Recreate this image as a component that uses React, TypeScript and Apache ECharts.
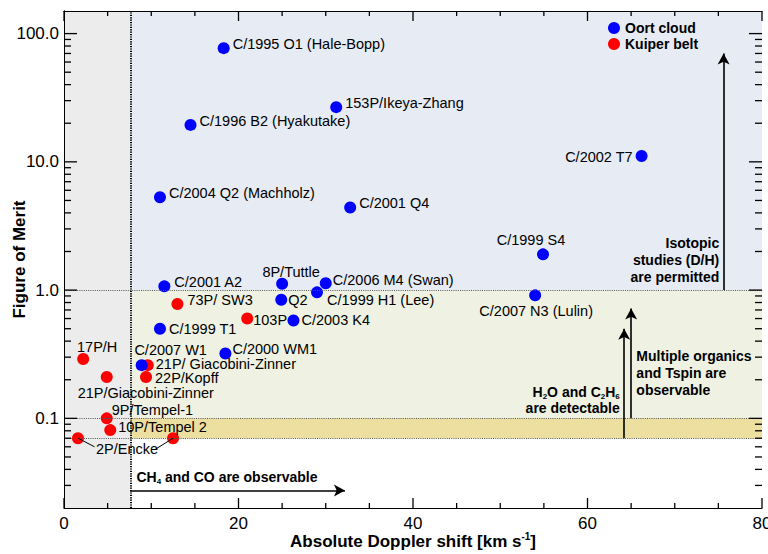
import { useEffect, useRef } from "react";
import * as echarts from "echarts";

// Axis ranges
const X_MIN = 0;
const X_MAX = 80;
const X_STEP = 20;
const X_MINOR_STEP = 5;
const Y_MIN = 0.02;
const Y_MAX = 150;

// Observability thresholds
const X_CUT = 7.6; // CH4 / CO become observable beyond this Doppler shift
const Y_ISOTOPIC = 1.0;
const Y_ORGANICS = 0.1;
const Y_DETECT = 0.07;

// Oort cloud comets: name, absolute Doppler shift [km/s], figure of merit
const OORT_NAMES = [
  "C/1995 O1 (Hale-Bopp)",
  "C/1996 B2 (Hyakutake)",
  "153P/Ikeya-Zhang",
  "C/2002 T7",
  "C/2004 Q2 (Machholz)",
  "C/2001 Q4",
  "C/1999 S4",
  "C/2007 N3 (Lulin)",
  "C/2001 A2",
  "8P/Tuttle",
  "C/2006 M4 (Swan)",
  "C/1999 H1 (Lee)",
  "Q2",
  "C/2003 K4",
  "C/1999 T1",
  "C/2000 WM1",
  "C/2007 W1",
];
const OORT_SHIFT = [18.3, 14.5, 31.2, 66.2, 11.0, 32.8, 54.9, 54.0, 11.5, 25.0, 30.0, 29.0, 24.9, 26.3, 11.0, 18.5, 8.9];
const OORT_MERIT = [77, 19.4, 26.7, 11.1, 5.3, 4.4, 1.9, 0.91, 1.07, 1.12, 1.13, 0.96, 0.84, 0.58, 0.5, 0.32, 0.26];

// Kuiper belt (Jupiter-family) comets
const KUIPER_NAMES = [
  "73P/ SW3",
  "103P",
  "21P/ Giacobini-Zinner",
  "22P/Kopff",
  "17P/H",
  "21P/Giacobini-Zinner",
  "9P/Tempel-1",
  "10P/Tempel 2",
  "2P/Encke",
  "2P/Encke",
];
const KUIPER_SHIFT = [13.0, 21.0, 9.6, 9.4, 2.2, 4.9, 4.9, 5.3, 1.6, 12.5];
const KUIPER_MERIT = [0.78, 0.6, 0.26, 0.21, 0.29, 0.21, 0.1, 0.081, 0.07, 0.07];

// Tick values of the logarithmic axis
const Y_MAJOR_TICKS = [0.1, 1, 10, 100];
const Y_MINOR_TICKS = [
  0.03, 0.04, 0.05, 0.06, 0.07, 0.08, 0.09,
  0.2, 0.3, 0.4, 0.5, 0.6, 0.7, 0.8, 0.9,
  2, 3, 4, 5, 6, 7, 8, 9,
  20, 30, 40, 50, 60, 70, 80, 90,
];

// Label placement per comet: side of the marker and a pixel nudge
type Side = "right" | "left" | "top" | "bottom" | "none";
const OORT_LABEL_SIDE: [Side, number, number][] = [
  ["right", 0, -4],
  ["right", 0, -4],
  ["right", 0, -4],
  ["left", 0, 1],
  ["right", 0, -4],
  ["right", 0, -5],
  ["top", -12, 2],
  ["bottom", 1, -1],
  ["right", 1, -4],
  ["top", 9, 5],
  ["right", -2, -3],
  ["right", 1, 8],
  ["right", -2, 0],
  ["right", -1, 0],
  ["right", 0, 0],
  ["right", -2, -5],
  ["top", 29, 1],
];
const KUIPER_LABEL_SIDE: [Side, number, number][] = [
  ["right", 1, -4],
  ["right", -3, 1],
  ["right", -1, -1],
  ["right", 0, 1],
  ["top", 14, 4],
  ["bottom", 39, -1],
  ["right", -4, -8],
  ["right", -1, -3],
  ["right", 9, 11],
  ["none", 0, 0],
];

// Leader lines joining both 2P/Encke points to their shared label (data space)
const ENCKE_LEADERS: [[number, number], [number, number]][] = [
  [[1.6, 0.07], [3.5, 0.06]],
  [[12.5, 0.07], [10.4, 0.057]],
];

// Annotation arrows (data space): start and end
const ARROW_ISOTOPIC: [[number, number], [number, number]] = [[75.6, Y_ISOTOPIC], [75.6, 70]];
const ARROW_ORGANICS: [[number, number], [number, number]] = [[65.0, Y_ORGANICS], [65.0, 0.72]];
const ARROW_DETECT: [[number, number], [number, number]] = [[64.2, Y_DETECT], [64.2, 0.5]];
const ARROW_CH4: [[number, number], [number, number]] = [[X_CUT, 0.0274], [32.2, 0.0274]];

// Annotation text anchors (data space)
const TEXT_ISOTOPIC: [number, number] = [75.1, 1.08];
const TEXT_ORGANICS: [number, number] = [65.6, 0.353];
const TEXT_DETECT: [number, number] = [63.7, 0.104];
const TEXT_CH4: [number, number] = [8.3, 0.0348];

const FONT = "'Liberation Sans', Arial, Helvetica, sans-serif";
const BLUE = "#0000ff";
const RED = "#ff0000";

function buildPoints(names: string[], xs: number[], ys: number[], sides: [Side, number, number][]) {
  return names.map((name, i) => {
    const [side, dx, dy] = sides[i];
    return {
      name,
      value: [xs[i], ys[i]],
      label:
        side === "none"
          ? { show: false }
          : { show: true, position: side, distance: 3, offset: [dx, dy] },
    };
  });
}

const isDecade = (v: number) => {
  const l = Math.log10(v);
  return Math.abs(l - Math.round(l)) < 1e-6;
};

export default function App() {
  const ref = useRef<HTMLDivElement>(null);

  useEffect(() => {
    document.body.style.margin = "0";
    if (!ref.current) return;
    const chart = echarts.init(ref.current, undefined, { renderer: "svg" });

    const pointLabel = {
      formatter: "{b}",
      fontSize: 14.5,
      color: "#000",
      fontFamily: FONT,
    };

    const arrowLine = (a: [[number, number], [number, number]]) => [
      { coord: a[0], symbol: "none" },
      { coord: a[1], symbol: "arrow", symbolSize: [9, 11] },
    ];

    const dotted = { color: "#555", width: 1.2, type: [1, 1.2] };

    const frameAxis = { show: true, lineStyle: { color: "#000", width: 1 } };

    const option: any = {
      animation: false,
      backgroundColor: "#ffffff",
      textStyle: { fontFamily: FONT },
      grid: { left: 64, right: 6, top: 11, bottom: 46, containLabel: false, outerBoundsMode: "none" },
      legend: {
        data: ["Oort cloud", "Kuiper belt"],
        orient: "vertical",
        left: 608,
        top: 21,
        padding: 0,
        itemGap: 2,
        itemWidth: 12,
        itemHeight: 12,
        icon: "circle",
        selectedMode: false,
        textStyle: { fontSize: 14, fontWeight: "bold", color: "#000", fontFamily: FONT, lineHeight: 12 },
      },
      xAxis: [
        {
          type: "value",
          min: X_MIN,
          max: X_MAX,
          interval: X_STEP,
          position: "bottom",
          z: 10,
          axisLine: frameAxis,
          axisTick: { show: false },
          splitLine: { show: false },
          axisLabel: { fontSize: 17, color: "#000", margin: 7, fontFamily: FONT, hideOverlap: false },
          name: "Absolute Doppler shift [km s{sup|-1}]",
          nameLocation: "middle",
          nameGap: 23,
          nameMoveOverlap: false,
          nameTextStyle: {
            fontSize: 17,
            fontWeight: "bold",
            color: "#000",
            fontFamily: FONT,
            lineHeight: 20,
            rich: {
              sup: { fontSize: 10, fontWeight: "bold", color: "#000", fontFamily: FONT, verticalAlign: "top", lineHeight: 12 },
            },
          },
        },
        {
          type: "value",
          min: X_MIN,
          max: X_MAX,
          interval: X_STEP,
          position: "top",
          z: 10,
          axisLine: frameAxis,
          axisTick: { show: false },
          splitLine: { show: false },
          axisLabel: { show: false },
        },
      ],
      yAxis: [
        {
          type: "log",
          logBase: 10,
          min: Y_MIN,
          max: Y_MAX,
          position: "left",
          z: 10,
          axisLine: frameAxis,
          axisTick: { show: false },
          splitLine: { show: false },
          axisLabel: {
            fontSize: 17,
            color: "#000",
            margin: 5,
            fontFamily: FONT,
            showMinLabel: false,
            showMaxLabel: false,
            formatter: (v: number) => (isDecade(v) ? v.toFixed(1) : ""),
          },
          name: "Figure of Merit",
          nameLocation: "middle",
          nameGap: 36,
          nameMoveOverlap: false,
          nameTextStyle: { fontSize: 17, fontWeight: "bold", color: "#000", fontFamily: FONT },
        },
        {
          type: "log",
          logBase: 10,
          min: Y_MIN,
          max: Y_MAX,
          position: "right",
          z: 10,
          axisLine: frameAxis,
          axisTick: { show: false },
          splitLine: { show: false },
          axisLabel: { show: false },
        },
      ],
      series: [
        {
          name: "Kuiper belt",
          type: "scatter",
          symbol: "circle",
          symbolSize: 12,
          itemStyle: { color: RED, opacity: 1 },
          label: pointLabel,
          labelLine: { show: false },
          data: buildPoints(KUIPER_NAMES, KUIPER_SHIFT, KUIPER_MERIT, KUIPER_LABEL_SIDE),
          markArea: {
            silent: true,
            label: { show: false },
            data: [
              [
                { xAxis: X_MIN, yAxis: Y_MIN, itemStyle: { color: "#ececec", opacity: 1 } },
                { xAxis: X_CUT, yAxis: Y_MAX },
              ],
              [
                { xAxis: X_CUT, yAxis: Y_ISOTOPIC, itemStyle: { color: "#e7ebf4", opacity: 1 } },
                { xAxis: X_MAX, yAxis: Y_MAX },
              ],
              [
                { xAxis: X_CUT, yAxis: Y_ORGANICS, itemStyle: { color: "#eff2e2", opacity: 1 } },
                { xAxis: X_MAX, yAxis: Y_ISOTOPIC },
              ],
              [
                { xAxis: X_CUT, yAxis: Y_DETECT, itemStyle: { color: "#ecdf9f", opacity: 1 } },
                { xAxis: X_MAX, yAxis: Y_ORGANICS },
              ],
            ],
          },
          markLine: {
            silent: true,
            symbol: "none",
            label: { show: false },
            data: [
              { xAxis: X_CUT, lineStyle: { color: "#000", width: 2, type: [1.2, 1.2] } },
              { yAxis: Y_ISOTOPIC, lineStyle: dotted },
              { yAxis: Y_ORGANICS, lineStyle: dotted },
              { yAxis: Y_DETECT, lineStyle: dotted },
              ...ENCKE_LEADERS.map((seg) => [
                { coord: seg[0], symbol: "none", lineStyle: { color: "#000", width: 1, type: "solid" } },
                { coord: seg[1], symbol: "none" },
              ]),
            ],
          },
        },
        {
          name: "Oort cloud",
          type: "scatter",
          symbol: "circle",
          symbolSize: 12,
          itemStyle: { color: BLUE, opacity: 1 },
          label: pointLabel,
          data: buildPoints(OORT_NAMES, OORT_SHIFT, OORT_MERIT, OORT_LABEL_SIDE),
          markLine: {
            silent: true,
            label: { show: false },
            lineStyle: { color: "#000", width: 1.6, type: "solid" },
            data: [arrowLine(ARROW_ISOTOPIC), arrowLine(ARROW_ORGANICS), arrowLine(ARROW_DETECT), arrowLine(ARROW_CH4)],
          },
        },
      ],
    };

    chart.setOption(option);

    // Pixel helpers from the chart's own scales
    const px = (p: [number, number]) => chart.convertToPixel({ xAxisIndex: 0, yAxisIndex: 0 }, p) as number[];

    // Inward frame ticks on all four sides
    const tickStyle = { stroke: "#000", lineWidth: 1.3 };
    const ticks: any[] = [];
    const xLeft = px([X_MIN, Y_MIN])[0];
    const xRight = px([X_MAX, Y_MIN])[0];
    const yBottom = px([X_MIN, Y_MIN])[1];
    const yTop = px([X_MIN, Y_MAX])[1];
    const hTick = (y: number, len: number) => {
      ticks.push({ type: "line", silent: true, z: 15, shape: { x1: xLeft, y1: y, x2: xLeft + len, y2: y }, style: tickStyle });
      ticks.push({ type: "line", silent: true, z: 15, shape: { x1: xRight - len, y1: y, x2: xRight, y2: y }, style: tickStyle });
    };
    const vTick = (x: number, len: number) => {
      ticks.push({ type: "line", silent: true, z: 15, shape: { x1: x, y1: yBottom, x2: x, y2: yBottom - len }, style: tickStyle });
      ticks.push({ type: "line", silent: true, z: 15, shape: { x1: x, y1: yTop, x2: x, y2: yTop + len }, style: tickStyle });
    };
    Y_MAJOR_TICKS.forEach((v) => hTick(px([X_MIN, v])[1], 13));
    Y_MINOR_TICKS.forEach((v) => hTick(px([X_MIN, v])[1], 7));
    for (let x = X_MIN; x <= X_MAX; x += X_MINOR_STEP) {
      vTick(px([x, Y_MIN])[0], x % X_STEP === 0 ? 10 : 5);
    }

    // Annotation texts anchored in data space
    const base = { fill: "#000", fontFamily: FONT, fontSize: 14, fontWeight: "bold" };
    const sub = { fontSize: 8, fontWeight: "bold", fontFamily: FONT, fill: "#000", verticalAlign: "bottom", lineHeight: 8 };

    const iso = px(TEXT_ISOTOPIC);
    const org = px(TEXT_ORGANICS);
    const det = px(TEXT_DETECT);
    const ch4 = px(TEXT_CH4);

    chart.setOption({
      graphic: [
        ...ticks,
        {
          type: "text",
          z: 20,
          silent: true,
          x: iso[0],
          y: iso[1],
          style: {
            ...base,
            text: "Isotopic\nstudies (D/H)\nare permitted",
            lineHeight: 17,
            align: "right",
            verticalAlign: "bottom",
          },
        },
        {
          type: "text",
          z: 20,
          silent: true,
          x: org[0],
          y: org[1],
          style: {
            ...base,
            text: "Multiple organics\nand Tspin are\nobservable",
            lineHeight: 16.7,
            align: "left",
            verticalAlign: "top",
          },
        },
        {
          type: "text",
          z: 20,
          silent: true,
          x: det[0],
          y: det[1],
          style: {
            ...base,
            text: "H{s|2}O and C{s|2}H{s|6}\nare detectable",
            lineHeight: 16,
            align: "right",
            verticalAlign: "bottom",
            rich: { s: sub },
          },
        },
        {
          type: "text",
          z: 20,
          silent: true,
          x: ch4[0],
          y: ch4[1],
          style: {
            ...base,
            text: "CH{s|4} and CO are observable",
            lineHeight: 17,
            align: "left",
            verticalAlign: "middle",
            rich: { s: sub },
          },
        },
      ],
    });

    return () => chart.dispose();
  }, []);

  return <div ref={ref} style={{ width: 768, height: 554 }} />;
}
